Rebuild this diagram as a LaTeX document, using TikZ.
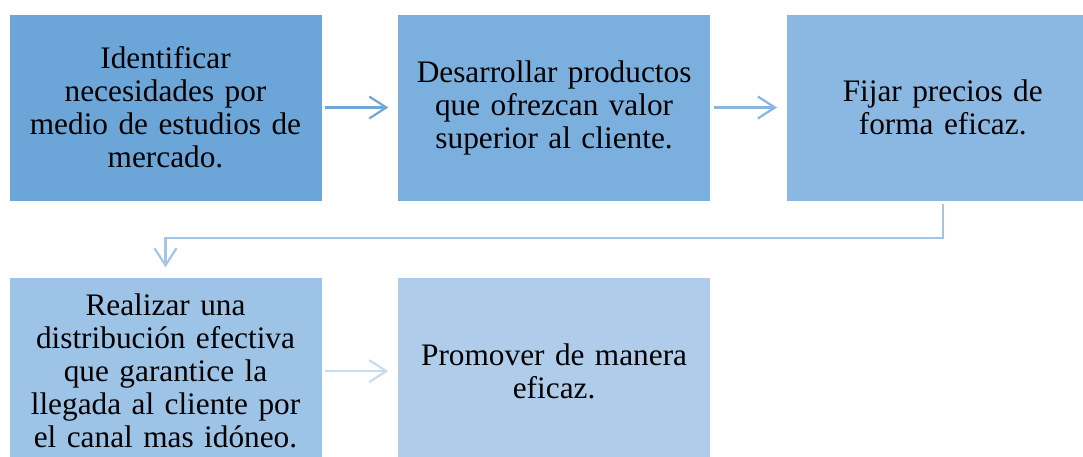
\documentclass[tikz,border=0pt]{standalone}
\usepackage{fontspec}
\setmainfont{Liberation Serif}
\usetikzlibrary{positioning,arrows.meta}

\definecolor{boxA}{RGB}{108,165,216}
\definecolor{boxB}{RGB}{122,175,222}
\definecolor{boxC}{RGB}{139,184,226}
\definecolor{boxD}{RGB}{157,195,230}
\definecolor{boxE}{RGB}{175,205,234}
\definecolor{arrA}{RGB}{112,166,216}
\definecolor{arrB}{RGB}{135,182,226}
\definecolor{arrC}{RGB}{163,198,232}
\definecolor{arrD}{RGB}{200,220,241}

\begin{document}
\begin{tikzpicture}[
    x=1pt, y=-1pt,
    every node/.style={font=\fontsize{31.3}{33}\selectfont},
    stepbox/.style={draw=white, line width=0.6pt, minimum width=313pt,
        minimum height=187pt, text width=295pt, align=center, inner sep=0pt},
    flow/.style={line width=2.2pt,
        -{Straight Barb[length=17pt,width=22pt,line width=2.2pt]},
        shorten <=3pt, shorten >=9pt},
]

\useasboundingbox (0,0) rectangle (1083,456);

% === first row ===
\node[stepbox, fill=boxA] (ident) at (165.5,107.5)
    {Identificar\\necesidades por\\medio de estudios de\\mercado.};
\node[stepbox, fill=boxB, right=75pt of ident] (desarr)
    {Desarrollar productos\\que ofrezcan valor\\superior al cliente.};
\node[stepbox, fill=boxC, right=75pt of desarr] (precio)
    {Fijar precios de\\forma eficaz.};

% === second row ===
\node[stepbox, fill=boxD, below=76pt of ident] (distrib)
    {Realizar una\\distribución efectiva\\que garantice la\\llegada al cliente por\\el canal mas idóneo.};
\node[stepbox, fill=boxE, right=75pt of distrib] (promo)
    {Promover de manera\\eficaz.};

% === connectors ===
\draw[flow, arrA] (ident) -- (desarr);
\draw[flow, arrB] (desarr) -- (precio);
\draw[flow, arrC, shorten >=10pt] (precio.south) -- ++(0,37) -| (distrib.north);
\draw[flow, arrD] (distrib) -- (promo);

\end{tikzpicture}
\end{document}
